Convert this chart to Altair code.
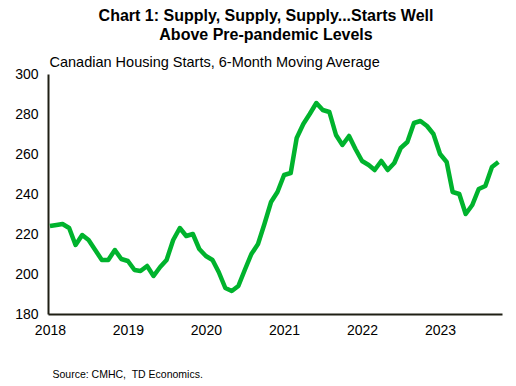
import altair as alt
import pandas as pd

months = pd.date_range("2018-01-01", periods=70, freq="MS").strftime("%Y-%m-%d").tolist()
starts = [
    224, 224.5, 225, 223, 214.5, 219.5, 217, 212, 207, 207, 212, 207.5,      # 2018
    206.5, 202, 201.5, 204, 199, 203.5, 207, 217, 223, 219, 220, 212.5,     # 2019
    209, 207, 201, 193, 191.5, 194, 202, 210, 215, 225, 236, 241,           # 2020
    249.5, 250.5, 268, 275, 280, 285.5, 282, 281, 269.5, 264.5, 269, 262.5, # 2021
    256.5, 254.5, 252, 256.5, 252, 255.5, 263, 266, 275.5, 276.5, 274, 270, # 2022
    260, 256, 241, 240, 230, 234.5, 242.5, 244, 253.5, 256,                 # 2023
]
years = [2018, 2019, 2020, 2021, 2022, 2023]
y_ticks = [180, 200, 220, 240, 260, 280, 300]

title_lines = ["Chart 1: Supply, Supply, Supply...Starts Well", "Above Pre-pandemic Levels"]
subtitle = "Canadian Housing Starts, 6-Month Moving Average"
source = "Source: CMHC,\u00a0 TD Economics."

df = pd.DataFrame({"date": months, "starts": starts})

FONT = "Liberation Sans"
AXIS_COLOR = "#1f1f14"

chart = alt.Chart(df).mark_line(
    color="#00B32D", strokeWidth=4.5, strokeJoin="round"
).encode(
    x=alt.X(
        "date:T",
        scale=alt.Scale(
            type="utc",
            domain=[
                alt.DateTime(year=2017, month=12, date=23, utc=True),
                alt.DateTime(year=2023, month=10, date=18, utc=True),
            ],
        ),
        axis=alt.Axis(
            values=[alt.DateTime(year=y, month=1, date=1, utc=True) for y in years],
            labelExpr="utcFormat(datum.value, '%Y')",
            ticks=False, grid=False,
            domainColor=AXIS_COLOR, domainWidth=2,
            labelFont=FONT, labelFontSize=14, labelColor="#000000", labelPadding=9,
            title=source, titleFont=FONT, titleFontSize=10.5, titleFontWeight="normal",
            titleColor="#000000", titleAnchor="start", titleAlign="left",
            titleBaseline="alphabetic", titleX=4, titleY=63,
        ),
    ),
    y=alt.Y(
        "starts:Q",
        scale=alt.Scale(domain=[180, 300], nice=False, zero=False),
        axis=alt.Axis(
            values=y_ticks, ticks=False, grid=False,
            domainColor=AXIS_COLOR, domainWidth=2,
            labelFont=FONT, labelFontSize=14, labelColor="#000000", labelPadding=10,
            title=subtitle, titleFont=FONT, titleFontSize=14.5, titleFontWeight="normal",
            titleColor="#000000", titleAngle=0, titleAlign="left",
            titleBaseline="alphabetic", titleX=1, titleY=-8,
        ),
    ),
).properties(
    width=454,
    height=240,
    title=alt.TitleParams(
        text=title_lines, font=FONT, fontSize=16, fontWeight="bold", color="#000000",
        anchor="middle", lineHeight=19.5, dx=-9, offset=10, dy=-1,
    ),
    autosize=alt.AutoSizeParams(type="none"),
    padding={"left": 40, "top": 66, "right": 6, "bottom": 72},
).configure_view(stroke=None)

chart.save("out.html", embed_options={"renderer": "svg", "actions": False})
